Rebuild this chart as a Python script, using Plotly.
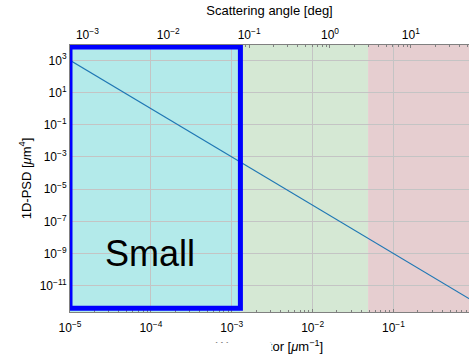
import numpy as np
import plotly.graph_objects as go

# 1D power spectral density read at decade spatial frequencies
freq = [1e-5, 1e-4, 1e-3, 1e-2, 1e-1, 1e0]          # [um^-1]
psd = [1e3, 1e0, 1e-3, 1e-6, 1e-9, 1e-12]           # [um^4]

# band limits in spatial frequency [um^-1]
band_small = [1e-5, 1.28e-3]
band_mid = [1.28e-3, 0.0485]
band_large = [0.0485, 1e1]
band_colors = ["#b3eaea", "#d5e8d4", "#e6ced0"]

# frame around the small band (x in um^-1, y in um^4)
frame_x = [1e-5, 1.28e-3]
frame_y = [10 ** -12.4, 10 ** 3.82]

# conversion from spatial frequency to scattering angle in degrees (lambda = 1.064 um)
wavelength = 1.064
deg_per_freq = wavelength * 180.0 / np.pi

x_ticks = [1e-5, 1e-4, 1e-3, 1e-2, 1e-1]
x_ticktext = ["10<sup>−5</sup>", "10<sup>−4</sup>", "10<sup>−3</sup>", "10<sup>−2</sup>", "10<sup>−1</sup>"]
top_ticks = [1e-3, 1e-2, 1e-1, 1e0, 1e1]
top_ticktext = ["10<sup>−3</sup>", "10<sup>−2</sup>", "10<sup>−1</sup>", "10<sup>0</sup>", "10<sup>1</sup>"]
y_ticks = [1e3, 1e1, 1e-1, 1e-3, 1e-5, 1e-7, 1e-9, 1e-11]
y_ticktext = ["10<sup>3</sup>", "10<sup>1</sup>", "10<sup>−1</sup>", "10<sup>−3</sup>",
              "10<sup>−5</sup>", "10<sup>−7</sup>", "10<sup>−9</sup>", "10<sup>−11</sup>"]

FONT = "Liberation Sans, Arial, sans-serif"
W, H = 469, 354
ML, MR, MT, MB = 70, 0, 45, 42
x_lo = -5.0
x_hi = x_lo + (W - ML - MR) / 80.87
shift = np.log10(deg_per_freq)

fig = go.Figure()
fig.add_trace(go.Scatter(x=freq, y=psd, mode="lines",
                         line=dict(color="#1f77b4", width=1.1),
                         showlegend=False, hoverinfo="skip"))
# same curve on the angle axis, invisible, so the top axis is laid out
fig.add_trace(go.Scatter(x=[f * deg_per_freq for f in freq], y=psd, xaxis="x2",
                         mode="lines", line=dict(width=0), opacity=0,
                         showlegend=False, hoverinfo="skip"))

for (a, b), c in zip([band_small, band_mid, band_large], band_colors):
    fig.add_shape(type="rect", xref="x", yref="paper", x0=a, x1=b, y0=0, y1=1,
                  fillcolor=c, line_width=0, layer="below")

fig.add_shape(type="rect", xref="x", yref="y",
              x0=frame_x[0], x1=frame_x[1], y0=frame_y[0], y1=frame_y[1],
              line=dict(color="#0000ff", width=5), fillcolor="rgba(0,0,0,0)", layer="above")

pw = W - ML - MR
ph = H - MT - MB
fig.add_annotation(text="Small", xref="paper", yref="paper",
                   x=(102.7 - ML) / pw, y=(H - MB - 253) / ph,
                   xanchor="left", yanchor="middle", showarrow=False,
                   font=dict(family=FONT, size=36, color="black"))

# white patch over part of the bottom axis title
fig.add_annotation(text=" ", xref="paper", yref="paper",
                   x=(207 - ML) / pw, y=(H - MB - 341.5) / ph,
                   xanchor="left", yanchor="top", showarrow=False,
                   width=63, height=14, bgcolor="white", borderpad=0,
                   font=dict(size=10))

grid = "#c4c4c4"
axis_common = dict(type="log", showline=True, linecolor="#808080", linewidth=1,
                   ticks="inside", ticklen=3, tickcolor="#808080",
                   tickfont=dict(family=FONT, size=12, color="black"))

fig.update_layout(
    width=W, height=H,
    margin=dict(l=ML, r=MR, t=MT, b=MB),
    paper_bgcolor="white", plot_bgcolor="white",
    font=dict(family=FONT, size=13, color="black"),
    xaxis=dict(**axis_common, range=[x_lo, x_hi],
               tickmode="array", tickvals=x_ticks, ticktext=x_ticktext,
               ticklabelstandoff=5,
               showgrid=True, gridcolor=grid, gridwidth=1,
               minor=dict(ticks="inside", ticklen=2, tickcolor="#808080", dtick="D1", showgrid=False),
               title=dict(text="Wavevector [<i>μ</i>m<sup>−1</sup>]",
                          font=dict(family=FONT, size=13), standoff=8)),
    xaxis2=dict(**axis_common, overlaying="x", side="top", anchor="y",
                range=[x_lo + shift, x_hi + shift],
                tickmode="array", tickvals=top_ticks, ticktext=top_ticktext,
                showgrid=False,
                minor=dict(ticks="inside", ticklen=2, tickcolor="#808080", dtick="D1", showgrid=False),
                title=dict(text="Scattering angle [deg]",
                           font=dict(family=FONT, size=13), standoff=7)),
    yaxis=dict(type="log", range=[-12.63, 3.95], showline=True, linecolor="#808080",
               ticks="", tickmode="array", tickvals=y_ticks, ticktext=y_ticktext,
               tickfont=dict(family=FONT, size=12, color="black"),
               showgrid=True, gridcolor=grid, gridwidth=1, zeroline=False,
               title=dict(text="1D-PSD [<i>μ</i>m<sup>4</sup>]",
                          font=dict(family=FONT, size=13), standoff=5)),
)

fig.write_html("out.html")
